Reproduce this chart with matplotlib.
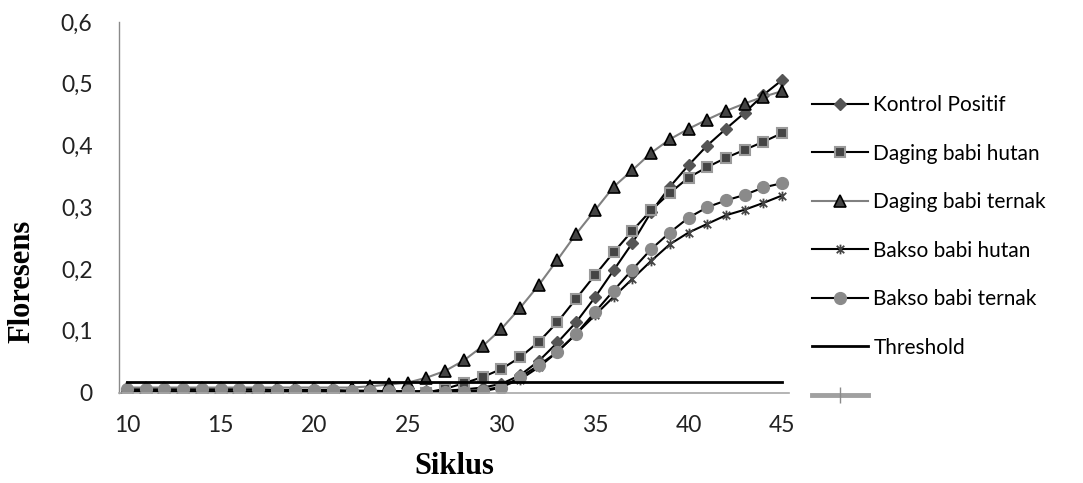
import numpy as np
import matplotlib.pyplot as plt
from matplotlib.path import Path
from matplotlib.lines import Line2D

# cycles 10..45
siklus = list(range(10, 46))

kontrol_positif = [0.003, 0.003, 0.002, 0.002, 0.002, 0.002, 0.001, 0.001, 0.001, 0.001,
                   0.001, 0.001, 0.001, 0.001, 0.001, 0.001, 0.002, 0.003, 0.005, 0.008,
                   0.014, 0.028, 0.051, 0.081, 0.114, 0.154, 0.198, 0.242, 0.292, 0.333,
                   0.368, 0.400, 0.427, 0.453, 0.482, 0.506]
daging_hutan = [-0.003, -0.003, -0.003, -0.003, -0.004, -0.004, -0.004, -0.004, -0.003, -0.003,
                -0.003, -0.003, -0.003, -0.002, -0.002, -0.002, 0.000, 0.006, 0.015, 0.025,
                0.038, 0.057, 0.082, 0.114, 0.152, 0.190, 0.227, 0.262, 0.295, 0.323,
                0.348, 0.365, 0.380, 0.393, 0.406, 0.420]
daging_ternak = [0.008, 0.008, 0.008, 0.008, 0.008, 0.008, 0.008, 0.008, 0.008, 0.008,
                 0.008, 0.008, 0.008, 0.010, 0.013, 0.016, 0.024, 0.035, 0.052, 0.075,
                 0.103, 0.137, 0.174, 0.215, 0.257, 0.295, 0.333, 0.360, 0.388, 0.410,
                 0.427, 0.442, 0.456, 0.468, 0.479, 0.488]
bakso_hutan = [0.002, 0.002, 0.002, 0.002, 0.002, 0.002, 0.002, 0.002, 0.002, 0.002,
               0.002, 0.002, 0.002, 0.002, 0.002, 0.002, 0.002, 0.002, 0.002, 0.004,
               0.009, 0.021, 0.041, 0.066, 0.095, 0.125, 0.155, 0.184, 0.213, 0.240,
               0.259, 0.273, 0.287, 0.296, 0.307, 0.319]
bakso_ternak = [0.005, 0.005, 0.005, 0.005, 0.005, 0.005, 0.005, 0.005, 0.004, 0.004,
                0.004, 0.004, 0.003, 0.003, 0.002, 0.002, 0.001, 0.001, 0.001, 0.002,
                0.008, 0.025, 0.044, 0.066, 0.095, 0.130, 0.165, 0.199, 0.232, 0.259,
                0.283, 0.300, 0.311, 0.320, 0.332, 0.339]
threshold = 0.017

xticks = [10, 15, 20, 25, 30, 35, 40, 45]
yticks = [0, 0.1, 0.2, 0.3, 0.4, 0.5, 0.6]
ytick_labels = ['0', '0,1', '0,2', '0,3', '0,4', '0,5', '0,6']

# excel style asterisk marker: x plus vertical bar
asterisk = Path([(-1, -1), (1, 1), (-1, 1), (1, -1), (0, -1.3), (0, 1.3)],
                [Path.MOVETO, Path.LINETO, Path.MOVETO, Path.LINETO, Path.MOVETO, Path.LINETO])


def run():
    fig = plt.figure(figsize=(10.83, 4.83), dpi=100)
    ax = fig.add_axes([119/1083, 1-392.5/483, 670/1083, 370.5/483])

    l1, = ax.plot(siklus, kontrol_positif, color='black', lw=1.5, marker='D', ms=6,
                  mfc='#555555', mec='#555555')
    l2, = ax.plot(siklus, daging_hutan, color='black', lw=1.5, marker='s', ms=7.5,
                  mfc='#444444', mec='#9a9a9a', mew=1.5)
    l3, = ax.plot(siklus, daging_ternak, color='#808080', lw=1.5, marker='^', ms=8.5,
                  mfc='#444444', mec='black', mew=1.2)
    l4, = ax.plot(siklus, bakso_hutan, color='black', lw=1.5, marker=asterisk, ms=7,
                  mfc='none', mec='#444444', mew=1.3)
    l5, = ax.plot(siklus, bakso_ternak, color='black', lw=1.5, marker='o', ms=8.5,
                  mfc='#8a8a8a', mec='#8a8a8a')
    l6, = ax.plot([siklus[0], siklus[-1]], [threshold, threshold], color='black', lw=2)
    l7 = Line2D([], [], color='#a0a0a0', lw=3.5, marker='|', ms=11, mec='#8a8a8a', mew=1)

    ax.set_xlim(9.57, 45.37)
    ax.set_ylim(0, 0.6)
    ax.set_xticks(xticks)
    ax.set_yticks(yticks)
    ax.set_yticklabels(ytick_labels)
    ax.tick_params(length=0, labelsize=16.5, colors='#222222')
    ax.tick_params(axis='y', pad=19)
    ax.tick_params(axis='x', pad=16)
    for lab in ax.get_xticklabels() + ax.get_yticklabels():
        lab.set_fontfamily('Lato')

    for s in ['top', 'right']:
        ax.spines[s].set_visible(False)
    ax.spines['left'].set_color('#8a8a8a')
    ax.spines['bottom'].set_color('#a8a8a8')
    ax.spines['left'].set_linewidth(1)
    ax.spines['bottom'].set_linewidth(1.2)

    ax.set_xlabel('Siklus', fontfamily='Liberation Serif', fontweight='bold', fontsize=22)
    ax.set_ylabel('Floresens', fontfamily='Liberation Serif', fontweight='bold', fontsize=22)
    ax.xaxis.label.set_va('center')
    ax.yaxis.label.set_va('center')
    ax.xaxis.set_label_coords(0.5, -0.2)
    ax.yaxis.set_label_coords(-0.145, 0.30)

    handles = [l1, l2, l3, l4, l5, l6, l7]
    labels = ['Kontrol Positif', 'Daging babi hutan', 'Daging babi ternak',
              'Bakso babi hutan', 'Bakso babi ternak', 'Threshold', '']
    fig.legend(handles, labels, loc='upper left', bbox_to_anchor=(812/1083, 1-95/483),
               frameon=False, prop={'family': 'Lato', 'size': 15}, handlelength=2.7,
               handletextpad=0.25, labelspacing=1.37, borderpad=0, borderaxespad=0)

    fig.savefig('out.png', dpi=100)


if __name__ == '__main__':
    run()
